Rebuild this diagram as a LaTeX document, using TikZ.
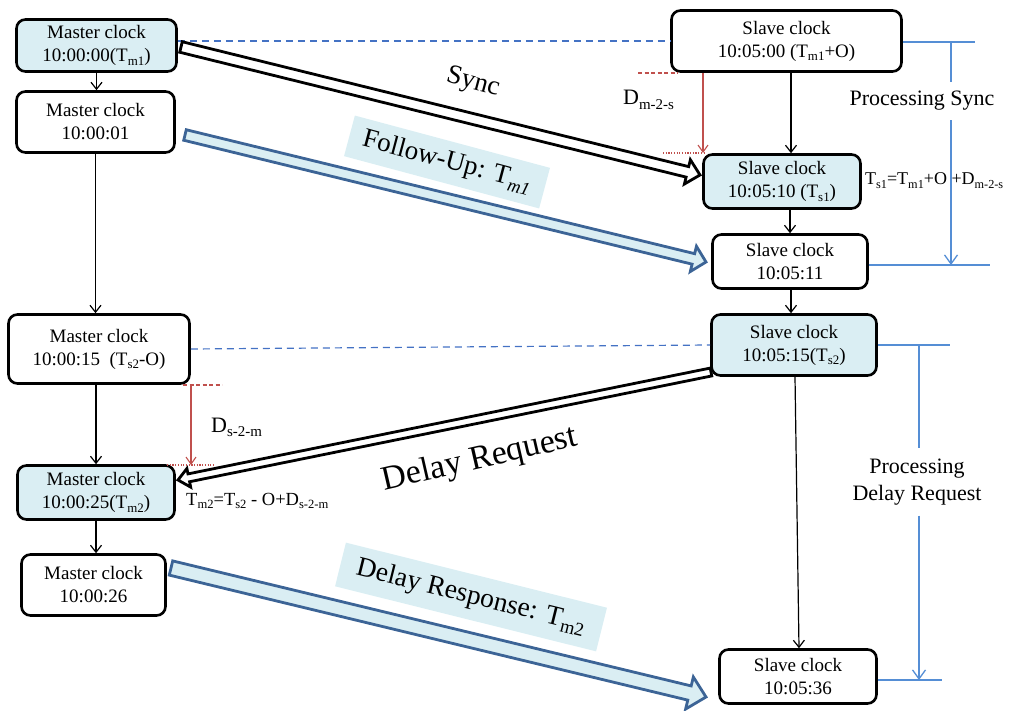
\documentclass[tikz,border=0pt]{standalone}
\usepackage{fontspec}
\setmainfont{Liberation Serif}
\usetikzlibrary{calc,arrows.meta}

\definecolor{paleblue}{RGB}{218,238,243}
\definecolor{steelblue}{RGB}{60,100,150}
\definecolor{guideblue}{RGB}{85,142,213}
\definecolor{dashblue}{RGB}{68,114,196}
\definecolor{delayred}{RGB}{192,80,77}

% lowered, reduced text for subscripts in the current text font
\makeatletter
\newcommand{\lo}[1]{\raisebox{-0.2em}{\fontsize{\strip@pt\dimexpr0.68\dimexpr\f@size pt\relax\relax}{0}\selectfont #1}}
\makeatother
\newcommand{\fsz}[2]{\fontsize{#1}{#2}\selectfont}

% broad outlined arrow from #2 to #3: style #1, half shaft #4, half head #5, head length #6
\newcommand{\blockarrow}[6]{%
  \coordinate (ba-h) at ($(#3)!#6!(#2)$);
  \draw[#1] ($(#2)!#4!90:(#3)$) -- ($(ba-h)!#4!90:(#3)$) -- ($(ba-h)!#5!90:(#3)$)
    -- (#3) -- ($(ba-h)!#5!-90:(#3)$) -- ($(ba-h)!#4!-90:(#3)$) -- ($(#2)!#4!-90:(#3)$) -- cycle;
}

\tikzset{
  clockbox/.style={draw, line width=2.6pt, rounded corners=9pt, align=center,
    inner sep=0pt, font=\fsz{19}{23}},
  shaded/.style={fill=paleblue},
  conn/.style={line width=1.2pt, -{Straight Barb[length=7pt,width=11pt]}},
  redarrow/.style={delayred, line width=1.1pt, -{Straight Barb[length=7pt,width=10pt]}},
  reddash/.style={delayred, line width=1.1pt, dash pattern=on 4pt off 2.5pt},
  reddot/.style={delayred, line width=1.1pt, dash pattern=on 1.2pt off 1.5pt},
  guide/.style={guideblue, line width=1.3pt},
  guidearrow/.style={guide, -{Straight Barb[length=9pt,width=13pt]}},
  linkdash/.style={dashblue, line width=1.2pt, dash pattern=on 7pt off 5pt},
  blackmsg/.style={draw=black, fill=white, line width=2.8pt},
  bluemsg/.style={draw=steelblue, fill=paleblue, line width=2.8pt},
  msglabel/.style={fill=paleblue, inner sep=0pt},
}

\begin{document}
\begin{tikzpicture}[x=1pt,y=-1pt]
\useasboundingbox (0,0) rectangle (1014,711);

% master side
\node[clockbox, shaded, minimum width=160pt, minimum height=52pt] (m1) at (96.5,45.5) {Master clock\\10:00:00(T\lo{m1})};
\node[clockbox, minimum width=158pt, minimum height=61pt] (m2) at (95.5,122) {Master clock\\10:00:01};
\node[clockbox, minimum width=181pt, minimum height=69pt] (m3) at (99,349) {Master clock\\10:00:15\ \ (T\lo{s2}-O)};
\node[clockbox, shaded, minimum width=157pt, minimum height=54pt] (m4) at (96,492.5) {Master clock\\10:00:25(T\lo{m2})};
\node[clockbox, minimum width=144pt, minimum height=61pt] (m5) at (93.5,585) {Master clock\\10:00:26};

% slave side
\node[clockbox, minimum width=230pt, minimum height=61pt] (s1) at (786.5,41) {Slave clock\\10:05:00 (T\lo{m1}+O)};
\node[clockbox, shaded, minimum width=157pt, minimum height=54pt] (s2) at (782,181.5) {Slave clock\\10:05:10 (T\lo{s1})};
\node[clockbox, minimum width=155pt, minimum height=54pt] (s3) at (790,261.5) {Slave clock\\10:05:11};
\node[clockbox, shaded, minimum width=165pt, minimum height=61pt] (s4) at (794,345) {Slave clock\\10:05:15(T\lo{s2})};
\node[clockbox, minimum width=157pt, minimum height=54pt] (s5) at (798,676.5) {Slave clock\\10:05:36};

% local time steps
\coordinate (scol) at (791,0);
\draw[conn] (m1.south) -- (m1.south |- m2.north);
\draw[conn] (m2.south) -- (m2.south |- m3.north);
\draw[conn] (m4.north |- m3.south) -- (m4.north);
\draw[conn] (m4.south) -- (m4.south |- m5.north);
\draw[conn] (s1.south -| scol) -- (s2.north -| scol);
\draw[conn] (s3.north |- s2.south) -- (s3.north);
\draw[conn] (s3.south -| scol) -- (s4.north -| scol);
\draw[conn] ([xshift=1pt]s4.south) -- ([xshift=1pt]s5.north);

% simultaneous instants
\draw[linkdash] (m1.east |- s1.west) -- (s1.west);
\draw[linkdash] (m3.east) -- (s4.west);

% path delays
\coordinate (dms-top) at (703,73);
\draw[reddash] (638,73) -- (678,73);
\draw[redarrow] (dms-top) -- (dms-top |- 0,153);
\draw[reddot] (663,153) -- (705,153);
\node[anchor=base west, inner sep=0pt, font=\fsz{22}{26}] (dms) at (623,105) {D\lo{m-2-s}};

\coordinate (dsm-top) at (191,385);
\draw[reddash] (183,385) -- (222,385);
\draw[redarrow] (dsm-top) -- (dsm-top |- 0,465);
\draw[reddot] (167,465) -- (215,465);
\node[anchor=base west, inner sep=0pt, font=\fsz{22}{26}] (dsm) at (211,432) {D\lo{s-2-m}};

% resulting timestamps
\node[anchor=base west, inner sep=0pt, font=\fsz{18}{22}] (f1) at (865,185) {T\lo{s1}=T\lo{m1}+O +D\lo{m-2-s}};
\node[anchor=base west, inner sep=0pt, font=\fsz{18.5}{22}] (f2) at (186,505) {T\lo{m2}=T\lo{s2} - O+D\lo{s-2-m}};

% processing intervals
\node[inner sep=0pt, minimum height=38pt, font=\fsz{22}{26}] (psync) at (922,101) {Processing Sync};
\coordinate (ps-top) at (951,42);
\coordinate (ps-bot) at (951,265);
\draw[guide] (s1.east |- ps-top) -- (975,42);
\draw[guide] (ps-top) -- (ps-top |- psync.north);
\draw[guidearrow] (ps-top |- psync.south) -- (ps-bot);
\draw[guide] (s3.east |- ps-bot) -- (990,265);

\node[inner sep=0pt, minimum height=67pt, align=center, font=\fsz{22}{27}] (pdr) at (917,482) {Processing\\Delay Request};
\coordinate (pd-top) at (919,345);
\coordinate (pd-bot) at (919,680);
\draw[guide] (s4.east) -- (950,345);
\draw[guide] (pd-top) -- (pd-top |- pdr.north);
\draw[guidearrow] (pd-top |- pdr.south) -- (pd-bot);
\draw[guide] (s5.east |- pd-bot) -- (942,680);

% PTP messages
\coordinate (sy-a) at (181,47);
\coordinate (sy-b) at (700,175);
\blockarrow{blackmsg}{sy-a}{sy-b}{5.4pt}{12.5pt}{13pt}
\coordinate (fu-a) at (185,135);
\coordinate (fu-b) at (706,262);
\blockarrow{bluemsg}{fu-a}{fu-b}{5.4pt}{13pt}{13pt}
\coordinate (dq-a) at (711,372);
\coordinate (dq-b) at (178,480);
\blockarrow{blackmsg}{dq-a}{dq-b}{4pt}{9.5pt}{11pt}
\coordinate (dr-a) at (171,568);
\coordinate (dr-b) at (706,697);
\blockarrow{bluemsg}{dr-a}{dr-b}{7.3pt}{16.5pt}{17pt}

% message names
\node[rotate=-15, font=\fsz{27}{30}] (sync) at (473,83) {Sync};
\node[msglabel, rotate=-15, minimum width=202pt, minimum height=42pt, font=\fsz{27}{30}] (fu) at (447,162) {Follow-Up: T\lo{\itshape m1}};
\node[rotate=13, font=\fsz{34}{38}] (dq) at (480,460) {Delay Request};
\node[msglabel, rotate=-14, minimum width=269pt, minimum height=45pt, font=\fsz{27.5}{30}] (dr) at (471,597) {Delay Response: T\lo{m2}};
\end{tikzpicture}
\end{document}
